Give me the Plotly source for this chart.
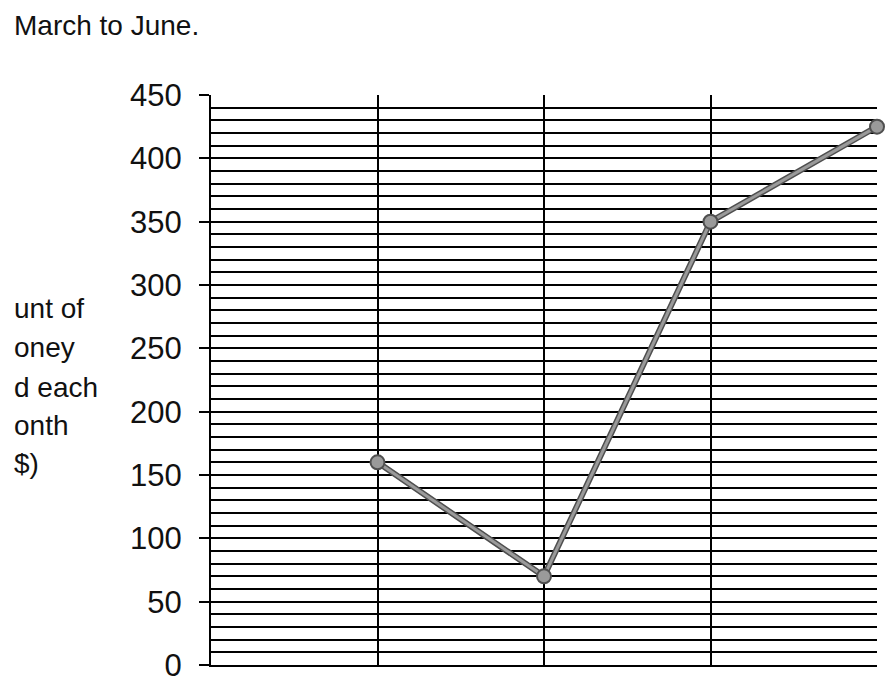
import plotly.graph_objects as go

# Money saved each month
months = ["March", "April", "May", "June"]
amounts = [160, 70, 350, 425]

# y-axis title, as much of it as the scan shows (left part is cut off)
ylabel_lines = ["unt of", "oney", "d each", "onth", "$)"]
ylabel_mid = [308, 347, 387, 425, 463]   # vertical centre of each line, page px

# the page body has an 8px margin, so the figure is a bit smaller than the window
OFF = 8
W, H = 894 - OFF, 684 - OFF
L, R, T, B = 211 - OFF, 894 - 877, 95 - OFF, 684 - 665
plot_w, plot_h = W - L - R, H - T - B


def px(xpage):
    return (xpage - OFF - L) / plot_w


def py(ypage):
    return (H - B - (ypage - OFF)) / plot_h


FONT = "Liberation Sans, Arial, sans-serif"

fig = go.Figure()
# darker edge under a lighter core, like the scanned grey line
fig.add_trace(go.Scatter(
    x=months, y=amounts, mode="lines",
    line=dict(color="#4f4f4f", width=6),
    cliponaxis=False, hoverinfo="skip",
))
fig.add_trace(go.Scatter(
    x=months, y=amounts, mode="lines+markers",
    line=dict(color="#9a9a9a", width=3),
    marker=dict(size=14, color="#9a9a9a", line=dict(color="#4f4f4f", width=2)),
    cliponaxis=False,
    hovertemplate="%{x}: $%{y}<extra></extra>",
))

fig.update_xaxes(
    type="category", range=[-1, 3],
    showticklabels=False, ticks="",
    showgrid=True, gridcolor="black", gridwidth=2,
    showline=True, linecolor="black", linewidth=2,
    zeroline=False,
)
fig.update_yaxes(
    range=[0, 450], dtick=50, tick0=0,
    ticks="outside", ticklen=10, tickcolor="black", tickwidth=1.5,
    ticklabelstandoff=11,
    showgrid=True, gridcolor="black", gridwidth=1.6,
    minor=dict(dtick=10, showgrid=True, gridcolor="black", gridwidth=1.6),
    showline=True, linecolor="black", linewidth=2,
    zeroline=False,
    tickfont=dict(family=FONT, size=31, color="#111111"),
)

annotations = [dict(
    text="March to June.", xref="paper", yref="paper",
    x=px(12), y=py(25), xanchor="left", yanchor="middle",
    showarrow=False, font=dict(family=FONT, size=28, color="#111111"),
)]
for txt, ym in zip(ylabel_lines, ylabel_mid):
    annotations.append(dict(
        text=txt, xref="paper", yref="paper",
        x=px(12), y=py(ym),
        xanchor="left", yanchor="middle", showarrow=False,
        font=dict(family=FONT, size=28, color="#111111"),
    ))

fig.update_layout(
    width=W, height=H,
    margin=dict(l=L, r=R, t=T, b=B, autoexpand=False),
    paper_bgcolor="white", plot_bgcolor="white",
    showlegend=False,
    annotations=annotations,
)

fig.write_html("out.html")
